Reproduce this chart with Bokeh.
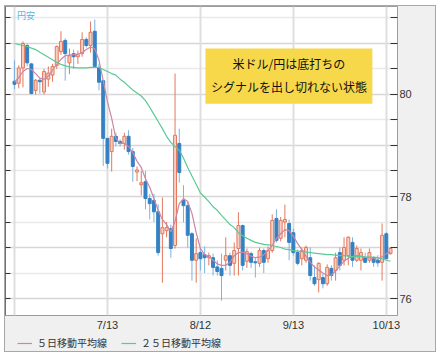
from bokeh.plotting import figure
from bokeh.layouts import column
from bokeh.models import (ColumnDataSource, FixedTicker, Grid, LinearAxis, Range1d,
                          Label, BoxAnnotation, Legend, LegendItem)
from bokeh.embed import file_html
from bokeh.resources import INLINE

# ---- data (USD/JPY daily candles) ----
opens = [80.26, 80.22, 80.52, 80.96, 80.60, 80.08, 80.28, 80.05, 80.30, 80.38,
         80.57, 80.84, 81.06, 80.62, 80.80, 80.74, 80.80, 81.08, 80.96, 81.24,
         80.53, 80.27, 79.14, 78.88, 79.18, 79.08, 79.04, 79.18, 78.88, 78.48,
         78.23, 78.29, 77.96, 77.92, 77.70, 77.27, 77.33, 77.37, 77.04, 79.04,
         77.92, 77.82, 77.27, 76.75, 76.90, 76.86, 76.80, 76.80, 76.62, 76.59,
         76.75, 76.84, 76.69, 76.98, 77.43, 76.73, 76.88, 76.72, 76.69, 76.94,
         76.78, 76.94, 77.57, 77.18, 77.50, 77.47, 77.29, 76.90, 76.78, 76.75,
         76.80, 76.41, 76.37, 76.41, 76.29, 76.59, 76.55, 76.90, 76.75, 76.84,
         77.10, 76.75, 76.75, 76.80, 76.75, 76.80, 76.75, 76.71, 77.27, 76.88]
highs = [80.67, 80.57, 81.04, 81.00, 80.62, 80.30, 80.32, 80.50, 80.55, 80.60,
         80.96, 81.24, 81.10, 80.90, 80.88, 80.86, 81.22, 81.12, 81.43, 81.47,
         80.60, 80.27, 79.14, 79.33, 79.25, 79.12, 79.25, 79.30, 78.95, 78.59,
         78.50, 78.50, 78.05, 78.05, 77.85, 77.98, 77.50, 77.45, 80.41, 79.33,
         78.22, 77.90, 77.30, 77.18, 77.00, 77.02, 76.90, 76.88, 76.75, 76.88,
         77.20, 76.90, 77.10, 77.69, 77.45, 76.98, 76.92, 76.80, 77.00, 76.98,
         77.02, 77.65, 77.75, 77.60, 77.84, 77.55, 77.37, 76.96, 77.00, 77.04,
         77.00, 76.65, 76.71, 76.49, 76.67, 76.65, 76.90, 77.00, 77.20, 77.22,
         77.20, 77.04, 76.98, 76.90, 76.98, 76.82, 76.85, 77.47, 77.30, 76.98]
lows = [80.10, 80.12, 80.14, 80.55, 80.00, 80.00, 80.02, 80.00, 80.15, 80.25,
        80.50, 80.78, 80.27, 80.40, 80.50, 80.60, 80.74, 80.92, 80.82, 80.53,
        80.08, 78.60, 78.55, 78.49, 78.98, 78.98, 78.92, 78.82, 78.29, 78.30,
        78.02, 77.75, 77.55, 77.50, 76.84, 76.31, 77.20, 76.80, 76.98, 78.27,
        77.49, 77.00, 76.35, 76.31, 76.55, 76.50, 76.65, 76.45, 76.45, 75.96,
        76.55, 76.45, 76.45, 76.45, 76.55, 76.60, 76.60, 76.41, 76.62, 76.50,
        76.70, 76.90, 77.10, 77.12, 77.20, 76.75, 76.84, 76.65, 76.65, 76.70,
        76.35, 76.25, 76.12, 76.20, 76.25, 76.35, 76.35, 76.55, 76.65, 76.65,
        76.62, 76.72, 76.55, 76.70, 76.70, 76.62, 76.62, 76.35, 76.80, 76.86]
closes = [80.20, 80.52, 81.00, 80.62, 80.02, 80.28, 80.25, 80.45, 80.42, 80.55,
          80.94, 81.04, 80.80, 80.76, 80.74, 80.78, 81.08, 80.96, 81.22, 80.55,
          80.24, 79.14, 78.65, 79.18, 79.08, 79.04, 79.18, 78.88, 78.59, 78.52,
          78.27, 77.96, 77.86, 77.70, 76.90, 77.39, 77.39, 76.98, 79.20, 78.47,
          77.82, 77.24, 76.75, 76.88, 76.78, 76.80, 76.84, 76.61, 76.53, 76.45,
          76.84, 76.65, 76.94, 77.43, 76.65, 76.92, 76.71, 76.70, 76.94, 76.71,
          76.94, 77.53, 77.14, 77.53, 77.55, 77.10, 76.90, 76.69, 76.94, 77.00,
          76.45, 76.29, 76.69, 76.29, 76.61, 76.45, 76.80, 76.65, 77.00, 77.20,
          76.75, 76.98, 76.90, 76.71, 76.90, 76.71, 76.70, 77.24, 76.78, 76.98]
ma5 = [80.24, 80.33, 80.45, 80.51, 80.49, 80.41, 80.32, 80.30, 80.36, 80.48,
       80.59, 80.69, 80.76, 80.77, 80.78, 80.79, 80.82, 80.88, 80.93, 80.90,
       80.67, 80.27, 79.86, 79.53, 79.14, 79.04, 79.04, 78.98, 78.86, 78.69,
       78.57, 78.35, 78.18, 77.96, 77.73, 77.55, 77.45, 77.31, 77.51, 77.86,
       77.96, 77.90, 77.67, 77.29, 76.98, 76.86, 76.82, 76.75, 76.68, 76.65,
       76.65, 76.71, 76.84, 76.90, 76.91, 76.88, 76.83, 76.80, 76.81, 76.86,
       76.94, 77.04, 77.18, 77.27, 77.35, 77.33, 77.22, 77.08, 76.96, 76.83,
       76.71, 76.62, 76.56, 76.50, 76.45, 76.46, 76.54, 76.64, 76.73, 76.79,
       76.82, 76.84, 76.83, 76.81, 76.80, 76.78, 76.77, 76.82, 76.88, 76.91]
ma25 = [81.00, 80.98, 80.96, 80.94, 80.91, 80.88, 80.83, 80.78, 80.73, 80.68,
        80.63, 80.59, 80.56, 80.54, 80.53, 80.52, 80.52, 80.52, 80.53, 80.53,
        80.53, 80.49, 80.45, 80.41, 80.38, 80.30, 80.24, 80.16, 80.09, 80.03,
        79.97, 79.88, 79.75, 79.61, 79.47, 79.33, 79.18, 79.06, 78.98, 78.91,
        78.75, 78.57, 78.40, 78.24, 78.07, 77.99, 77.90, 77.80, 77.73, 77.63,
        77.54, 77.45, 77.39, 77.29, 77.23, 77.18, 77.14, 77.10, 77.08, 77.06,
        77.05, 77.04, 77.02, 77.00, 76.97, 76.96, 76.94, 76.93, 76.92, 76.91,
        76.90, 76.89, 76.88, 76.87, 76.86, 76.86, 76.85, 76.84, 76.84, 76.83,
        76.82, 76.82, 76.82, 76.81, 76.81, 76.81, 76.80, 76.78, 76.75, 76.73]

x_tick_pos = [0, 22, 44, 66, 88]
x_tick_labels = ["", "7/13", "8/12", "9/13", "10/13"]
y_label_ticks = [76, 78, 80]
y_all_ticks = [75.5, 76.0, 76.5, 77.0, 77.5, 78.0, 78.5, 79.0, 79.5, 80.0, 80.5, 81.0, 81.5]
y_whole_ticks = [76, 77, 78, 79, 80, 81]
y_half_ticks = [75.5, 76.5, 77.5, 78.5, 79.5, 80.5, 81.5]

legend_labels = ["５日移動平均線", "２５日移動平均線"]
note_lines = ["米ドル/円は底打ちの", "シグナルを出し切れない状態"]
corner_label = "円安"

# ---- styling ----
UP_FILL = "#f8cfc3"
UP_LINE = "#e2785c"
DN_FILL = "#3480c2"
DN_WICK = "#7db2df"
MA5_COL = "#c987a8"
MA25_COL = "#5cc995"
BG = "#f0f0f0"
JP_FONT = "Noto Sans CJK JP"

n = len(opens)
idx = list(range(n))
up = [c >= o for o, c in zip(opens, closes)]
src = ColumnDataSource(dict(
    x=idx, o=opens, h=highs, l=lows, c=closes,
    top=[max(o, c) for o, c in zip(opens, closes)],
    bot=[min(o, c) for o, c in zip(opens, closes)],
    fill=[UP_FILL if u else DN_FILL for u in up],
    line=[UP_LINE if u else DN_FILL for u in up],
    wick=[UP_LINE if u else DN_WICK for u in up],
))
ma_src = ColumnDataSource(dict(x=idx, ma5=ma5, ma25=ma25))

p = figure(width=430, height=327,
           x_range=Range1d(-2.13, 90.65), y_range=Range1d(75.667, 81.725),
           y_axis_location="right", output_backend="svg", toolbar_location=None,
           min_border_left=0, min_border_top=0, min_border_right=38, min_border_bottom=18,
           border_fill_color=BG, background_fill_color="white",
           outline_line_color="#9c9c9c")

p.xgrid.visible = False
p.ygrid.visible = False
p.add_layout(Grid(dimension=1, ticker=FixedTicker(ticks=y_half_ticks),
                  grid_line_color="#e9e9e9", grid_line_width=1.5))
p.add_layout(Grid(dimension=1, ticker=FixedTicker(ticks=y_whole_ticks),
                  grid_line_color="#d6d6d6", grid_line_width=1.5))
p.add_layout(Grid(dimension=0, ticker=FixedTicker(ticks=x_tick_pos),
                  grid_line_color="#dedede", grid_line_width=2))

# right axis (main)
ya = p.yaxis[0]
ya.ticker = FixedTicker(ticks=y_label_ticks, minor_ticks=y_all_ticks)
ya.major_label_overrides = {t: str(t) for t in y_label_ticks}
ya.major_tick_in = 7
ya.major_tick_out = 0
ya.minor_tick_in = 7
ya.minor_tick_out = 0
ya.major_tick_line_color = "#333333"
ya.minor_tick_line_color = "#333333"
ya.axis_line_color = None
ya.major_label_standoff = 2
ya.major_label_text_font = "Liberation Sans"
ya.major_label_text_font_size = "11px"
ya.major_label_text_color = "#333333"

# left axis: ticks only
la = LinearAxis(ticker=FixedTicker(ticks=[], minor_ticks=y_all_ticks))
la.major_label_text_font_size = "0px"
la.major_label_standoff = 0
la.major_tick_out = 0
la.major_tick_in = 0
la.minor_tick_in = 5
la.minor_tick_out = 0
la.minor_tick_line_color = "#333333"
la.axis_line_color = "#707070"
p.add_layout(la, "left")

# x axis
xa = p.xaxis[0]
xa.ticker = FixedTicker(ticks=x_tick_pos)
xa.major_label_overrides = {t: s for t, s in zip(x_tick_pos, x_tick_labels)}
xa.major_tick_in = 0
xa.major_tick_out = 0
xa.minor_tick_line_color = None
xa.axis_line_color = None
xa.major_label_standoff = 3
xa.major_label_text_font = "Liberation Sans"
xa.major_label_text_font_size = "11px"
xa.major_label_text_color = "#333333"

# candles
p.segment(x0="x", y0="l", x1="x", y1="h", source=src, line_color="wick", line_width=1)
p.vbar(x="x", top="top", bottom="bot", width=0.7, source=src,
       fill_color="fill", line_color="line", line_width=1)

p.line("x", "ma5", source=ma_src, line_color=MA5_COL, line_width=1.2)
p.line("x", "ma25", source=ma_src, line_color=MA25_COL, line_width=1.2)

# annotation box
p.add_layout(BoxAnnotation(left=45.2, right=84.7, top=80.90, bottom=79.82,
                           fill_color="#f6d84a", fill_alpha=1.0, line_color=None))
p.add_layout(Label(x=64.95, y=80.60, text=note_lines[0], text_align="center",
                   text_baseline="middle", text_font=JP_FONT,
                   text_font_size="12px", text_color="#111111"))
p.add_layout(Label(x=64.95, y=80.16, text=note_lines[1], text_align="center",
                   text_baseline="middle", text_font=JP_FONT,
                   text_font_size="12px", text_color="#111111"))
p.add_layout(Label(x=0.6, y=81.67, text=corner_label, text_align="left",
                   text_baseline="top", text_font=JP_FONT,
                   text_font_size="9px", text_color="#55b5ea"))

# legend strip (second small figure; its lines lie outside its own ranges)
p2 = figure(width=430, height=18, x_range=Range1d(-20, -10), y_range=Range1d(0, 1),
            x_axis_type=None, y_axis_type=None, output_backend="svg",
            toolbar_location=None, min_border=0, border_fill_color=BG,
            background_fill_color=BG, outline_line_color=None)
p2.grid.visible = False
l5 = p2.line("x", "ma5", source=ma_src, line_color=MA5_COL, line_width=1.2)
l25 = p2.line("x", "ma25", source=ma_src, line_color=MA25_COL, line_width=1.2)
legend = Legend(items=[LegendItem(label=legend_labels[0], renderers=[l5]),
                       LegendItem(label=legend_labels[1], renderers=[l25])],
                orientation="horizontal", location=(12, 1),
                label_text_font=JP_FONT, label_text_font_size="10px",
                label_text_color="#333333", glyph_width=15, glyph_height=12,
                label_height=12, label_standoff=5, spacing=14, padding=0, margin=0,
                border_line_color=None, background_fill_alpha=0)
p2.add_layout(legend)

layout = column(p, p2, spacing=0, margin=(5, 0, 0, 4),
                styles={"border": "1px solid #a8a8a8", "background-color": BG})

open("out.html", "w").write(file_html(layout, INLINE))
